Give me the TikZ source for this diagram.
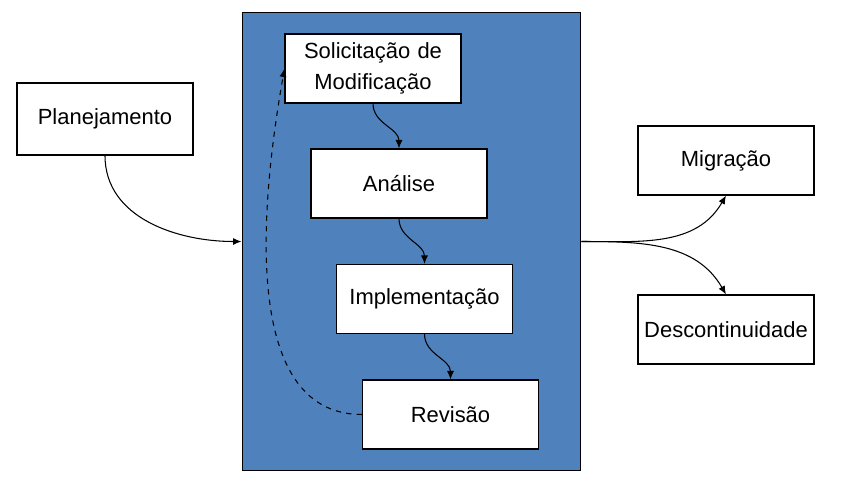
\documentclass[tikz,border=0pt]{standalone}
\usepackage{fontspec}
\setmainfont{Liberation Sans}
\usepackage{xcolor}
\usetikzlibrary{arrows.meta,positioning,calc}

\definecolor{panelblue}{HTML}{4F81BD}

\begin{document}
\begin{tikzpicture}[
    x=0.02cm, y=-0.02cm,
    phase/.style={rectangle, draw=black, line width=0.6pt, fill=white, text width=3.3cm, align=center, minimum width=3.52cm, minimum height=1.38cm, inner sep=0pt, font=\fontsize{12.5}{17.5}\selectfont},
    panel/.style={rectangle, draw=black, line width=0.6pt, fill=panelblue, minimum width=6.78cm, minimum height=9.18cm, inner sep=0pt},
    arrow/.style={-{Latex[length=1.7mm,width=1.4mm]}, line width=0.6pt},
]

\useasboundingbox (0,0) rectangle (842,485);

% Maintenance panel
\node[panel] (maint) at (411.5,241.5) {};

% Left and right phases
\node[phase, minimum height=1.44cm] (plan) at (105,119) {Planejamento};
\node[phase] (mig) at (726,160.5) {Migração};
\node[phase] (desc) at (726,329.5) {Descontinuidade};

% Maintenance steps
\node[phase] (sol) at (373,68.5) {Solicitação de\\Modificação};
\node[phase] (ana) at (399,183.5) {Análise};
\node[phase] (impl) at (424.5,299) {Implementação};
\node[phase] (rev) at (450.5,414.5) {Revisão};

% Arrows - into and out of the panel
\draw[arrow] (plan.south) to[out=-90, in=180] (maint.west);
\draw[arrow] (maint.east) to[out=0, in=-120] (mig.south);
\draw[arrow] (maint.east) to[out=0, in=120] (desc.north);

% Arrows - steps
\draw[arrow] (sol.south) to[out=-90, in=90] (ana.north);
\draw[arrow] (ana.south) to[out=-90, in=90] (impl.north);
\draw[arrow] (impl.south) to[out=-90, in=90] (rev.north);

% Feedback
\draw[arrow, dashed] (rev.west) to[out=180, in=-100, looseness=0.9] (sol.west);

\end{tikzpicture}
\end{document}
